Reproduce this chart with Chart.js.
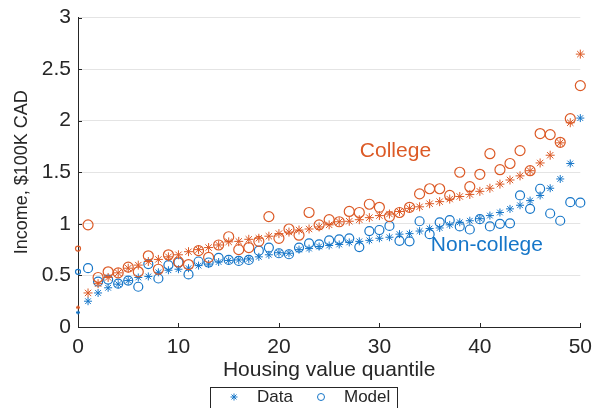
<!DOCTYPE html>
<html>
<head>
<meta charset="utf-8">
<script src="https://cdn.jsdelivr.net/npm/chart.js@4.4.1/dist/chart.umd.min.js"></script>
<style>
  html, body { margin: 0; padding: 0; background: #fff; }
</style>
</head>
<body>
<canvas id="chart" width="594" height="408"></canvas>
<script>
// housing value quantiles 0..50
const quantiles = [0, 1, 2, 3, 4, 5, 6, 7, 8, 9, 10, 11, 12, 13, 14, 15, 16, 17, 18, 19, 20,
  21, 22, 23, 24, 25, 26, 27, 28, 29, 30, 31, 32, 33, 34, 35, 36, 37, 38, 39, 40,
  41, 42, 43, 44, 45, 46, 47, 48, 49, 50];

// income, $100K CAD
const collegeData = [0.19, 0.33, 0.42, 0.48, 0.525, 0.57, 0.60, 0.635, 0.655, 0.68, 0.70,
  0.73, 0.75, 0.77, 0.795, 0.825, 0.83, 0.85, 0.86, 0.88, 0.905,
  0.92, 0.94, 0.95, 0.97, 0.99, 1.02, 1.025, 1.04, 1.06, 1.08,
  1.095, 1.12, 1.15, 1.165, 1.195, 1.215, 1.24, 1.265, 1.285, 1.315,
  1.345, 1.385, 1.425, 1.465, 1.515, 1.59, 1.665, 1.785, 1.98, 2.645];
const collegeModel = [0.76, 0.99, 0.48, 0.535, 0.525, 0.58, 0.535, 0.69, 0.56, 0.70, 0.63,
  0.605, 0.74, 0.675, 0.795, 0.875, 0.75, 0.77, 0.83, 1.07, 0.86,
  0.95, 0.89, 1.11, 0.99, 1.04, 1.02, 1.12, 1.11, 1.19, 1.16,
  1.07, 1.11, 1.16, 1.29, 1.34, 1.34, 1.275, 1.50, 1.36, 1.48,
  1.68, 1.525, 1.585, 1.71, 1.515, 1.875, 1.865, 1.79, 2.02, 2.34];
const nonCollegeData = [0.14, 0.25, 0.33, 0.38, 0.415, 0.45, 0.48, 0.49, 0.53, 0.55, 0.56,
  0.57, 0.595, 0.61, 0.63, 0.645, 0.65, 0.66, 0.68, 0.70, 0.72,
  0.715, 0.75, 0.76, 0.78, 0.79, 0.80, 0.82, 0.83, 0.84, 0.86,
  0.87, 0.90, 0.905, 0.93, 0.955, 0.96, 0.99, 1.015, 1.03, 1.05,
  1.08, 1.11, 1.145, 1.18, 1.225, 1.275, 1.345, 1.435, 1.585, 2.025];
const nonCollegeModel = [0.535, 0.57, 0.44, 0.46, 0.42, 0.45, 0.39, 0.61, 0.47, 0.60, 0.625,
  0.51, 0.635, 0.625, 0.67, 0.65, 0.64, 0.65, 0.74, 0.77, 0.715,
  0.705, 0.77, 0.81, 0.80, 0.84, 0.85, 0.86, 0.775, 0.93, 0.94,
  0.98, 0.835, 0.83, 1.025, 0.90, 1.015, 1.035, 0.975, 0.945, 1.045,
  0.975, 1.00, 1.005, 1.275, 1.145, 1.34, 1.10, 1.03, 1.21, 1.205];

const xTicks = [0, 10, 20, 30, 40, 50];
const yTicks = [0, 0.5, 1, 1.5, 2, 2.5, 3];

const ORANGE = '#dc5a26';
const BLUE = '#1676c8';
const INK = '#262626';

Chart.defaults.font.family = "'Liberation Sans', Arial, sans-serif";
Chart.defaults.color = INK;

function points(values) {
  return quantiles.map((q, i) => ({ x: q, y: values[i] }));
}

function starSet(label, values, color, r) {
  return {
    label: label,
    data: points(values),
    pointStyle: 'star',
    pointRadius: ctx => (ctx.dataIndex === 0 ? 2 : r),
    pointBorderWidth: 1,
    borderColor: color,
    backgroundColor: color,
    showLine: false,
    clip: false
  };
}

function circleSet(label, values, color, r) {
  return {
    label: label,
    data: points(values),
    pointStyle: 'circle',
    pointRadius: ctx => (ctx.dataIndex === 0 ? 2.5 : r),
    pointBorderWidth: 1.2,
    borderColor: color,
    backgroundColor: 'rgba(0,0,0,0)',
    showLine: false,
    clip: false
  };
}

// inside ticks, curve labels and the boxed legend
const extras = {
  id: 'extras',
  afterDraw(chart) {
    const ctx = chart.ctx;
    const xs = chart.scales.x, ys = chart.scales.y;
    const area = chart.chartArea;
    ctx.save();
    ctx.strokeStyle = INK;
    ctx.lineWidth = 1;
    ctx.beginPath();
    xTicks.forEach(v => {
      const px = Math.round(xs.getPixelForValue(v)) + 0.5;
      ctx.moveTo(px, area.bottom);
      ctx.lineTo(px, area.bottom - 4);
    });
    yTicks.forEach(v => {
      const py = Math.round(ys.getPixelForValue(v)) + 0.5;
      ctx.moveTo(area.left, py);
      ctx.lineTo(area.left + 4, py);
    });
    ctx.stroke();

    ctx.font = "21px 'Liberation Sans', Arial, sans-serif";
    ctx.textAlign = 'center';
    ctx.textBaseline = 'middle';
    ctx.fillStyle = ORANGE;
    ctx.fillText('College', xs.getPixelForValue(31.6), ys.getPixelForValue(1.70));
    ctx.fillStyle = BLUE;
    ctx.fillText('Non-college', xs.getPixelForValue(40.7), ys.getPixelForValue(0.79));

    // legend
    ctx.fillStyle = '#fff';
    ctx.fillRect(210.5, 387.5, 187, 30);
    ctx.strokeStyle = INK;
    ctx.strokeRect(210.5, 387.5, 187, 30);
    ctx.strokeStyle = BLUE;
    ctx.fillStyle = BLUE;
    Chart.helpers.drawPoint(ctx, { pointStyle: 'star', radius: 3.5, rotation: 0, borderWidth: 1 }, 234, 397);
    ctx.fillStyle = 'rgba(0,0,0,0)';
    Chart.helpers.drawPoint(ctx, { pointStyle: 'circle', radius: 3.5, rotation: 0, borderWidth: 1 }, 321, 397);
    ctx.fillStyle = INK;
    ctx.font = "17px 'Liberation Sans', Arial, sans-serif";
    ctx.textAlign = 'left';
    ctx.fillText('Data', 257, 397);
    ctx.fillText('Model', 344, 397);
    ctx.restore();
  }
};

new Chart(document.getElementById('chart'), {
  type: 'scatter',
  data: {
    datasets: [
      circleSet('College model', collegeModel, ORANGE, 5),
      starSet('College data', collegeData, ORANGE, 4.5),
      circleSet('Non-college model', nonCollegeModel, BLUE, 4.5),
      starSet('Non-college data', nonCollegeData, BLUE, 4)
    ]
  },
  options: {
    responsive: false,
    animation: false,
    events: [],
    layout: { padding: { top: 11, right: 11, left: 0, bottom: 0 } },
    plugins: {
      legend: { display: false },
      tooltip: { enabled: false }
    },
    scales: {
      x: {
        type: 'linear',
        min: 0,
        max: 50,
        afterFit: s => { s.height = 81; },
        afterBuildTicks: s => { s.ticks = xTicks.map(v => ({ value: v })); },
        ticks: { font: { size: 21, lineHeight: 1 }, padding: 2, maxRotation: 0, callback: v => String(v) },
        grid: { display: false },
        border: { color: INK, width: 1 },
        title: {
          display: true,
          text: 'Housing value quantile',
          font: { size: 21, lineHeight: 1 },
          padding: { top: 0, bottom: 27 }
        }
      },
      y: {
        min: 0,
        max: 3,
        afterFit: s => { s.width = 78; },
        afterBuildTicks: s => { s.ticks = yTicks.map(v => ({ value: v })); },
        ticks: { font: { size: 21, lineHeight: 1 }, padding: 7, callback: v => String(v) },
        grid: { color: '#e4e4e4', drawTicks: false },
        border: { color: INK, width: 1 },
        title: {
          display: true,
          text: 'Income, $100K CAD',
          font: { size: 18, lineHeight: 1 },
          padding: { top: 13, bottom: 0 }
        }
      }
    }
  },
  plugins: [extras]
});
</script>
</body>
</html>
